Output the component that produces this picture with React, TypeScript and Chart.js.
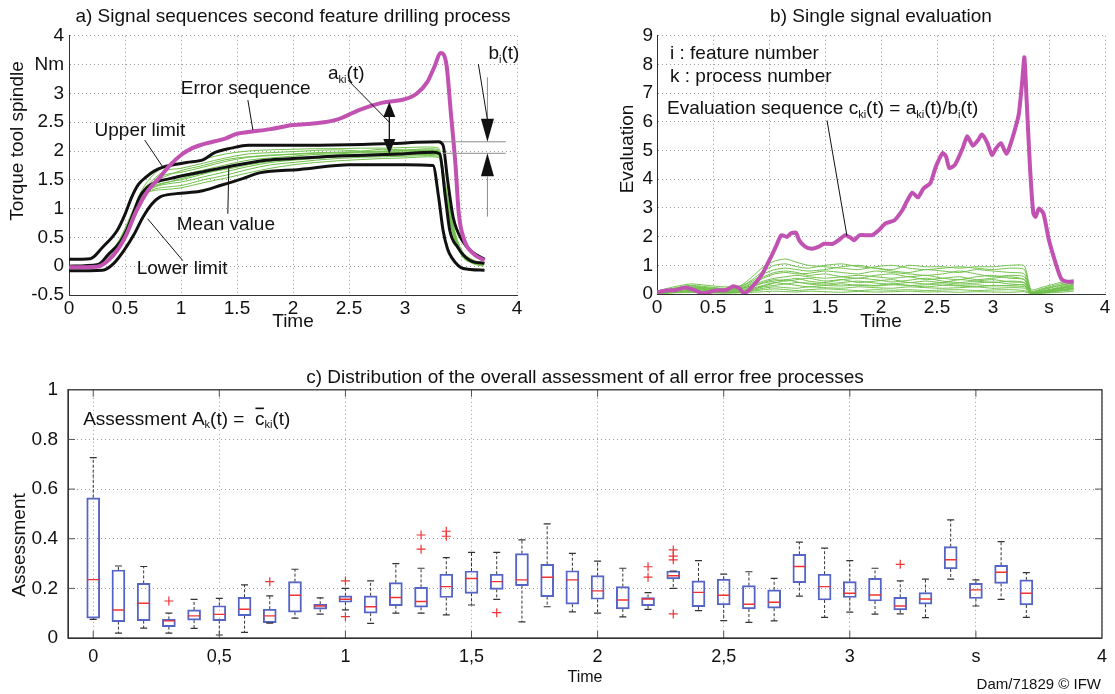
import React, { useEffect, useRef } from 'react';
import { Chart, registerables } from 'chart.js';
Chart.register(...registerables);

const FONT = '"Liberation Sans", Arial, Helvetica, sans-serif';
const TXT = '#111111';
const GRID = '#9a9a9a';
const AXIS = '#333333';
const GREEN = '#72c04c';
const PINK = '#c152b2';
const BLACK = '#111111';

// ---------- shared x ticks (panels a, b) ----------
const X_TICKS = [0, 0.5, 1, 1.5, 2, 2.5, 3, 3.5, 4];
const X_LABELS = ['0', '0.5', '1', '1.5', '2', '2.5', '3', 's', '4'];

// ---------- panel a ----------
const YA_TICKS = [-0.5, 0, 0.5, 1, 1.5, 2, 2.5, 3, 3.5, 4];
const YA_LABELS = ['-0.5', '0', '0.5', '1', '1.5', '2', '2.5', '3', 'Nm', '4'];

const UPPER_T = [0, 0.19, 0.3, 0.43, 0.5, 0.56, 0.62, 0.69, 0.76, 0.84, 1.05, 1.2, 1.3, 1.45, 1.6, 2.0, 2.5, 2.9, 3.1, 3.3, 3.34, 3.38, 3.43, 3.51, 3.6, 3.71];
const UPPER_V = [0.12, 0.13, 0.33, 0.62, 0.9, 1.2, 1.42, 1.55, 1.65, 1.72, 1.8, 1.85, 1.97, 2.05, 2.1, 2.1, 2.11, 2.13, 2.15, 2.16, 2.1, 1.5, 0.85, 0.45, 0.25, 0.12];
const MEAN_T = [0, 0.26, 0.35, 0.45, 0.52, 0.58, 0.63, 0.7, 0.75, 0.9, 1.17, 1.4, 1.76, 2.0, 2.36, 2.7, 2.95, 3.25, 3.31, 3.36, 3.4, 3.47, 3.58, 3.71];
const MEAN_V = [0, 0.03, 0.2, 0.4, 0.65, 0.95, 1.2, 1.37, 1.44, 1.52, 1.63, 1.72, 1.84, 1.87, 1.91, 1.93, 1.95, 1.98, 1.95, 1.2, 0.62, 0.33, 0.1, 0.05];
const LOWER_T = [0, 0.3, 0.4, 0.5, 0.58, 0.66, 0.74, 0.81, 0.96, 1.17, 1.35, 1.55, 1.7, 2.06, 2.51, 3.0, 3.25, 3.3, 3.34, 3.38, 3.42, 3.52, 3.71];
const LOWER_V = [-0.08, -0.07, 0.05, 0.3, 0.55, 0.85, 1.08, 1.2, 1.26, 1.3, 1.4, 1.52, 1.62, 1.68, 1.76, 1.76, 1.75, 1.2, 0.62, 0.3, 0.14, -0.04, -0.07];
const ERROR_T = [0, 0.25, 0.4, 0.5, 0.6, 0.7, 0.8, 0.9, 1.0, 1.1, 1.2, 1.4, 1.5, 1.6, 1.8, 2.0, 2.2, 2.4, 2.6, 2.8, 3.0, 3.1, 3.2, 3.26, 3.32, 3.37, 3.41, 3.45, 3.48, 3.53, 3.61, 3.71];
const ERROR_V = [-0.02, -0.01, 0.2, 0.5, 0.95, 1.3, 1.52, 1.75, 1.93, 2.05, 2.12, 2.22, 2.3, 2.33, 2.38, 2.45, 2.48, 2.55, 2.72, 2.84, 2.9, 2.99, 3.2, 3.45, 3.7, 3.5, 2.65, 1.78, 0.92, 0.45, 0.22, 0.1];

const GA_T = [0, 0.25, 0.35, 0.45, 0.55, 0.65, 0.75, 0.85, 1.0, 1.2, 1.4, 1.6, 1.8, 2.0, 2.2, 2.4, 2.6, 2.8, 3.0, 3.2, 3.3, 3.36, 3.42, 3.5, 3.6, 3.7];
const GA_1 = [0.01, 0.03, 0.22, 0.46, 0.88, 1.32, 1.58, 1.72, 1.78, 1.86, 1.95, 2.0, 2.02, 2.03, 2.04, 2.04, 2.05, 2.05, 2.06, 2.07, 2.05, 1.45, 0.8, 0.3, 0.12, 0.06];
const GA_2 = [0, 0.02, 0.2, 0.44, 0.85, 1.28, 1.5, 1.65, 1.7, 1.79, 1.88, 1.95, 1.97, 1.99, 2.01, 2.02, 2.0, 2.03, 2.02, 2.04, 2.02, 1.38, 0.75, 0.28, 0.11, 0.05];
const GA_3 = [0, 0.01, 0.18, 0.42, 0.82, 1.26, 1.46, 1.58, 1.63, 1.72, 1.82, 1.89, 1.92, 1.95, 1.97, 1.98, 1.99, 2.0, 2.01, 2.02, 2.0, 1.34, 0.72, 0.26, 0.1, 0.04];
const GA_4 = [-0.01, 0.0, 0.17, 0.4, 0.8, 1.24, 1.41, 1.5, 1.58, 1.67, 1.76, 1.84, 1.88, 1.91, 1.94, 1.95, 1.97, 1.97, 1.98, 2.0, 1.98, 1.3, 0.7, 0.24, 0.08, 0.03];
const GA_5 = [0, 0.02, 0.21, 0.43, 0.84, 1.25, 1.39, 1.45, 1.5, 1.6, 1.7, 1.78, 1.84, 1.87, 1.9, 1.93, 1.94, 1.95, 1.96, 1.97, 1.96, 1.28, 0.68, 0.23, 0.08, 0.02];
const GA_6 = [0.01, 0.02, 0.19, 0.41, 0.81, 1.22, 1.36, 1.42, 1.46, 1.55, 1.64, 1.73, 1.8, 1.84, 1.87, 1.9, 1.91, 1.92, 1.93, 1.94, 1.93, 1.25, 0.66, 0.22, 0.07, 0.02];
const GA_7 = [0, 0.01, 0.2, 0.42, 0.82, 1.21, 1.33, 1.37, 1.4, 1.5, 1.58, 1.68, 1.76, 1.8, 1.84, 1.87, 1.89, 1.9, 1.91, 1.92, 1.91, 1.22, 0.64, 0.21, 0.06, 0.01];
const GA_8 = [-0.01, 0.0, 0.18, 0.4, 0.79, 1.2, 1.31, 1.33, 1.36, 1.45, 1.53, 1.62, 1.7, 1.76, 1.8, 1.83, 1.85, 1.87, 1.88, 1.9, 1.89, 1.2, 0.62, 0.2, 0.05, 0.0];
const GA_9 = [0, 0.02, 0.22, 0.45, 0.86, 1.3, 1.45, 1.55, 1.66, 1.75, 1.85, 1.9, 1.93, 1.94, 1.96, 1.97, 1.98, 1.99, 2.0, 2.01, 1.99, 1.35, 0.73, 0.27, 0.1, 0.04];
const GA_10 = [0, 0.01, 0.19, 0.42, 0.82, 1.24, 1.37, 1.44, 1.52, 1.62, 1.68, 1.76, 1.82, 1.86, 1.88, 1.9, 1.92, 1.93, 1.94, 1.96, 1.95, 1.27, 0.67, 0.22, 0.07, 0.02];
const GREEN_A = [GA_1, GA_2, GA_3, GA_4, GA_5, GA_6, GA_7, GA_8, GA_9, GA_10];

// ---------- panel b ----------
const YB_TICKS = [0, 1, 2, 3, 4, 5, 6, 7, 8, 9];
const YB_LABELS = ['0', '1', '2', '3', '4', '5', '6', '7', '8', '9'];
const EVAL_T = [0, 0.08, 0.17, 0.25, 0.33, 0.41, 0.52, 0.62, 0.68, 0.73, 0.78, 0.86, 0.94, 1.01, 1.06, 1.11, 1.16, 1.19, 1.24, 1.27, 1.32, 1.38, 1.44, 1.49, 1.57, 1.63, 1.68, 1.73, 1.76, 1.81, 1.92, 1.98, 2.04, 2.12, 2.19, 2.23, 2.28, 2.33, 2.38, 2.44, 2.49, 2.55, 2.58, 2.61, 2.66, 2.73, 2.77, 2.82, 2.87, 2.9, 2.95, 2.99, 3.03, 3.07, 3.12, 3.15, 3.2, 3.23, 3.26, 3.28, 3.3, 3.33, 3.36, 3.38, 3.41, 3.45, 3.5, 3.57, 3.61, 3.66, 3.72];
const EVAL_V = [0.06, 0.12, 0.14, 0.23, 0.14, 0.02, 0.12, 0.14, 0.27, 0.21, 0.02, 0.29, 0.7, 1.23, 1.64, 2.05, 1.99, 2.1, 2.14, 1.87, 1.66, 1.58, 1.64, 1.75, 1.75, 1.9, 2.05, 1.96, 1.87, 2.05, 2.05, 2.22, 2.46, 2.57, 2.92, 3.22, 3.53, 3.37, 3.68, 3.86, 4.44, 4.91, 4.8, 4.39, 4.5, 5.09, 5.5, 5.17, 5.38, 5.56, 5.26, 4.85, 5.09, 5.26, 4.89, 5.15, 5.79, 6.26, 7.37, 8.25, 6.78, 4.44, 2.81, 2.69, 2.98, 2.81, 1.87, 0.94, 0.53, 0.43, 0.43];

const GB_T = [0, 0.15, 0.3, 0.45, 0.6, 0.75, 0.85, 0.95, 1.05, 1.15, 1.25, 1.35, 1.5, 1.65, 1.8, 1.95, 2.1, 2.25, 2.4, 2.55, 2.7, 2.85, 3.0, 3.15, 3.28, 3.34, 3.45, 3.6, 3.72];
const GB_1 = [0.05, 0.2, 0.3, 0.25, 0.2, 0.3, 0.6, 0.95, 1.15, 1.22, 1.1, 1.0, 0.95, 0.9, 0.85, 0.95, 1.0, 0.9, 0.85, 0.9, 0.95, 0.9, 0.85, 0.9, 0.85, 0.1, 0.2, 0.35, 0.45];
const GB_2 = [0.02, 0.15, 0.25, 0.2, 0.15, 0.25, 0.5, 0.8, 1.0, 1.05, 0.95, 0.9, 1.0, 1.05, 0.95, 0.9, 0.85, 1.0, 0.95, 0.95, 0.9, 0.95, 0.95, 1.0, 0.98, 0.15, 0.25, 0.4, 0.5];
const GB_3 = [0.1, 0.25, 0.35, 0.3, 0.25, 0.28, 0.45, 0.7, 0.85, 0.9, 0.85, 0.8, 0.85, 0.95, 1.0, 0.9, 0.8, 0.75, 0.85, 0.8, 0.75, 0.85, 0.8, 0.75, 0.7, 0.08, 0.15, 0.3, 0.4];
const GB_4 = [0.0, 0.1, 0.2, 0.18, 0.1, 0.2, 0.35, 0.55, 0.7, 0.75, 0.7, 0.72, 0.8, 0.75, 0.7, 0.8, 0.75, 0.7, 0.65, 0.7, 0.8, 0.7, 0.6, 0.65, 0.6, 0.05, 0.1, 0.25, 0.35];
const GB_5 = [0.05, 0.15, 0.2, 0.15, 0.12, 0.18, 0.3, 0.45, 0.55, 0.6, 0.65, 0.6, 0.55, 0.6, 0.65, 0.6, 0.55, 0.6, 0.5, 0.55, 0.6, 0.5, 0.55, 0.6, 0.5, 0.05, 0.12, 0.2, 0.3];
const GB_6 = [0.02, 0.12, 0.18, 0.15, 0.1, 0.15, 0.25, 0.4, 0.5, 0.45, 0.5, 0.55, 0.45, 0.5, 0.4, 0.45, 0.5, 0.4, 0.45, 0.4, 0.5, 0.45, 0.4, 0.45, 0.4, 0.05, 0.1, 0.2, 0.28];
const GB_7 = [0.05, 0.1, 0.15, 0.12, 0.08, 0.12, 0.2, 0.3, 0.4, 0.35, 0.4, 0.38, 0.35, 0.4, 0.45, 0.38, 0.35, 0.4, 0.35, 0.4, 0.35, 0.38, 0.42, 0.35, 0.3, 0.04, 0.08, 0.18, 0.25];
const GB_8 = [0.0, 0.08, 0.12, 0.1, 0.06, 0.1, 0.15, 0.25, 0.3, 0.35, 0.3, 0.25, 0.3, 0.35, 0.3, 0.28, 0.32, 0.3, 0.25, 0.3, 0.28, 0.25, 0.3, 0.28, 0.25, 0.03, 0.07, 0.15, 0.22];
const GB_9 = [0.03, 0.08, 0.1, 0.08, 0.05, 0.08, 0.12, 0.2, 0.25, 0.22, 0.2, 0.25, 0.22, 0.2, 0.25, 0.22, 0.2, 0.25, 0.22, 0.2, 0.22, 0.25, 0.2, 0.22, 0.2, 0.02, 0.05, 0.12, 0.18];
const GB_10 = [0.0, 0.05, 0.08, 0.06, 0.04, 0.06, 0.1, 0.15, 0.18, 0.15, 0.12, 0.15, 0.18, 0.15, 0.12, 0.15, 0.13, 0.15, 0.12, 0.14, 0.15, 0.12, 0.14, 0.15, 0.12, 0.02, 0.04, 0.1, 0.15];
const GB_11 = [0.02, 0.04, 0.05, 0.04, 0.03, 0.04, 0.06, 0.08, 0.1, 0.08, 0.07, 0.1, 0.08, 0.06, 0.09, 0.07, 0.08, 0.1, 0.07, 0.08, 0.06, 0.08, 0.07, 0.06, 0.08, 0.01, 0.03, 0.06, 0.1];
const GB_12 = [0.08, 0.2, 0.28, 0.22, 0.18, 0.22, 0.4, 0.6, 0.75, 0.8, 0.75, 0.65, 0.7, 0.6, 0.55, 0.65, 0.7, 0.6, 0.65, 0.55, 0.5, 0.6, 0.65, 0.55, 0.5, 0.06, 0.18, 0.3, 0.38];
const GB_13 = [0.01, 0.06, 0.1, 0.08, 0.05, 0.08, 0.16, 0.28, 0.38, 0.48, 0.55, 0.45, 0.4, 0.5, 0.55, 0.5, 0.42, 0.48, 0.55, 0.45, 0.4, 0.45, 0.5, 0.42, 0.38, 0.03, 0.06, 0.14, 0.2];
const GB_14 = [0.04, 0.12, 0.22, 0.2, 0.14, 0.2, 0.28, 0.38, 0.45, 0.5, 0.42, 0.35, 0.3, 0.28, 0.32, 0.3, 0.35, 0.3, 0.32, 0.35, 0.3, 0.32, 0.28, 0.3, 0.32, 0.04, 0.1, 0.22, 0.32];
const GREEN_B = [GB_1, GB_2, GB_3, GB_4, GB_5, GB_6, GB_7, GB_8, GB_9, GB_10, GB_11, GB_12, GB_13, GB_14];

// ---------- panel c ----------
const XC_TICKS = [0, 0.5, 1, 1.5, 2, 2.5, 3, 3.5, 4];
const XC_LABELS = ['0', '0,5', '1', '1,5', '2', '2,5', '3', 's', '4'];
const YC_TICKS = [0, 0.2, 0.4, 0.6, 0.8, 1];
const YC_LABELS = ['0', '0.2', '0.4', '0.6', '0.8', '1'];
const BOX_T = [0, 0.1, 0.2, 0.3, 0.4, 0.5, 0.6, 0.7, 0.8, 0.9, 1.0, 1.1, 1.2, 1.3, 1.4, 1.5, 1.6, 1.7, 1.8, 1.9, 2.0, 2.1, 2.2, 2.3, 2.4, 2.5, 2.6, 2.7, 2.8, 2.9, 3.0, 3.1, 3.2, 3.3, 3.4, 3.5, 3.6, 3.7];
const BOX_MIN = [0.075, 0.02, 0.04, 0.02, 0.039, 0.012, 0.023, 0.06, 0.08, 0.096, 0.113, 0.059, 0.1, 0.1, 0.093, 0.133, 0.156, 0.065, 0.126, 0.105, 0.1, 0.085, 0.115, 0.2, 0.11, 0.07, 0.063, 0.069, 0.169, 0.083, 0.104, 0.096, 0.097, 0.082, 0.237, 0.129, 0.156, 0.083];
const BOX_Q1 = [0.08, 0.066, 0.07, 0.046, 0.072, 0.07, 0.09, 0.062, 0.104, 0.116, 0.144, 0.1, 0.13, 0.124, 0.163, 0.18, 0.196, 0.211, 0.167, 0.136, 0.156, 0.117, 0.13, 0.238, 0.126, 0.133, 0.117, 0.12, 0.223, 0.153, 0.163, 0.149, 0.113, 0.136, 0.278, 0.159, 0.22, 0.133];
const BOX_MED = [0.235, 0.113, 0.14, 0.069, 0.089, 0.095, 0.116, 0.089, 0.172, 0.129, 0.156, 0.126, 0.163, 0.147, 0.207, 0.24, 0.227, 0.234, 0.245, 0.234, 0.19, 0.153, 0.157, 0.251, 0.184, 0.172, 0.136, 0.144, 0.288, 0.207, 0.18, 0.173, 0.129, 0.157, 0.315, 0.194, 0.265, 0.18];
const BOX_Q3 = [0.565, 0.274, 0.22, 0.075, 0.113, 0.13, 0.164, 0.116, 0.227, 0.136, 0.17, 0.17, 0.223, 0.204, 0.257, 0.27, 0.257, 0.34, 0.297, 0.271, 0.251, 0.207, 0.163, 0.27, 0.23, 0.237, 0.211, 0.194, 0.337, 0.257, 0.227, 0.24, 0.164, 0.183, 0.368, 0.22, 0.293, 0.234];
const BOX_MAX = [0.727, 0.29, 0.288, 0.1, 0.156, 0.16, 0.214, 0.17, 0.277, 0.162, 0.2, 0.23, 0.3, 0.281, 0.324, 0.345, 0.345, 0.395, 0.46, 0.341, 0.31, 0.281, 0.183, 0.27, 0.312, 0.257, 0.267, 0.24, 0.386, 0.362, 0.312, 0.281, 0.23, 0.237, 0.476, 0.234, 0.388, 0.263];
const OUT_T = [0.3, 0.7, 1.0, 1.0, 1.3, 1.3, 1.4, 1.4, 1.6, 2.2, 2.2, 2.3, 2.3, 2.3, 2.3, 3.2];
const OUT_V = [0.149, 0.227, 0.23, 0.086, 0.415, 0.358, 0.43, 0.41, 0.102, 0.287, 0.245, 0.355, 0.33, 0.315, 0.097, 0.297];

// ---------- helpers ----------
const zip = (t: number[], v: (number | null)[]) => t.map((x, i) => ({ x, y: v[i] }));
const f = (size: number) => `${size}px ${FONT}`;

type Part = [string, string?];
function rich(ctx: CanvasRenderingContext2D, x: number, yMid: number, parts: Part[], size: number) {
  ctx.save();
  ctx.textBaseline = 'alphabetic';
  ctx.textAlign = 'left';
  ctx.fillStyle = TXT;
  const base = yMid + size * 0.36;
  let cx = x;
  for (const [s, k] of parts) {
    const sub = k === 'sub';
    const sz = sub ? Math.round(size * 0.58) : size;
    ctx.font = f(sz);
    ctx.fillText(s, cx, sub ? base + size * 0.2 : base);
    const w = ctx.measureText(s).width;
    if (k === 'bar') {
      ctx.strokeStyle = TXT;
      ctx.lineWidth = 1.6;
      ctx.beginPath();
      ctx.moveTo(cx + 0.5, base - size * 0.86);
      ctx.lineTo(cx + w - 0.5, base - size * 0.86);
      ctx.stroke();
    }
    cx += w;
  }
  ctx.restore();
}
function vtext(ctx: CanvasRenderingContext2D, s: string, x: number, y: number, size: number) {
  ctx.save();
  ctx.translate(x, y);
  ctx.rotate(-Math.PI / 2);
  ctx.font = f(size);
  ctx.fillStyle = TXT;
  ctx.textAlign = 'center';
  ctx.textBaseline = 'middle';
  ctx.fillText(s, 0, 0);
  ctx.restore();
}
function seg(ctx: CanvasRenderingContext2D, x1: number, y1: number, x2: number, y2: number, color: string, w: number) {
  ctx.save();
  ctx.strokeStyle = color;
  ctx.lineWidth = w;
  ctx.beginPath();
  ctx.moveTo(x1, y1);
  ctx.lineTo(x2, y2);
  ctx.stroke();
  ctx.restore();
}
function tri(ctx: CanvasRenderingContext2D, x: number, yTip: number, h: number, w: number, up: boolean) {
  const yb = up ? yTip + h : yTip - h;
  ctx.save();
  ctx.fillStyle = BLACK;
  ctx.beginPath();
  ctx.moveTo(x, yTip);
  ctx.lineTo(x - w / 2, yb);
  ctx.lineTo(x + w / 2, yb);
  ctx.closePath();
  ctx.fill();
  ctx.restore();
}

function xAxis(ticks: number[], labels: string[], min: number, height: number, pad: number, titleSize: number, titlePadB: number) {
  return {
    type: 'linear',
    min,
    max: 4,
    offset: false,
    afterBuildTicks: (s: any) => { s.ticks = ticks.map((v) => ({ value: v })); },
    afterFit: (s: any) => { s.height = height; },
    ticks: {
      autoSkip: false,
      maxRotation: 0,
      padding: pad,
      color: TXT,
      font: { family: FONT, size: titleSize === 16 ? 18 : 19 },
      callback: (v: number) => { const i = ticks.indexOf(v); return i >= 0 ? labels[i] : ''; },
    },
    grid: { color: GRID, lineWidth: 1, drawTicks: false, offset: false },
    border: { color: AXIS, width: 1, dash: [1, 3] },
    title: { display: true, text: 'Time', color: TXT, font: { family: FONT, size: titleSize }, padding: { top: 0, bottom: titlePadB } },
  };
}
function yAxis(ticks: number[], labels: string[], min: number, max: number, width: number, pad: number, size: number) {
  return {
    type: 'linear',
    min,
    max,
    afterBuildTicks: (s: any) => { s.ticks = ticks.map((v) => ({ value: v })); },
    afterFit: (s: any) => { s.width = width; },
    ticks: {
      padding: pad,
      color: TXT,
      font: { family: FONT, size },
      callback: (v: number) => { const i = ticks.indexOf(v); return i >= 0 ? labels[i] : ''; },
    },
    grid: { color: GRID, lineWidth: 1, drawTicks: false },
    border: { color: AXIS, width: 1, dash: [1, 3] },
  };
}
const titleOpt = (text: string, top: number, bottom: number) => ({
  display: true,
  text,
  fullSize: false,
  color: TXT,
  font: { family: FONT, size: 19, weight: 'normal' as const },
  padding: { top, bottom },
});

// ---------- plugins ----------
const plugA = {
  id: 'plugA',
  afterDatasetsDraw(chart: any) {
    const ctx = chart.ctx as CanvasRenderingContext2D;
    const X = (t: number) => chart.scales.x.getPixelForValue(t);
    const Y = (v: number) => chart.scales.y.getPixelForValue(v);
    // leader lines
    seg(ctx, X(0.676), Y(2.19), X(0.837), Y(1.724), BLACK, 1);
    seg(ctx, X(1.597), Y(2.884), X(1.642), Y(2.364), BLACK, 1);
    seg(ctx, X(1.418), Y(0.91), X(1.427), Y(1.741), BLACK, 1);
    seg(ctx, X(1.016), Y(0.097), X(0.702), Y(0.824), BLACK, 1);
    seg(ctx, X(2.492), Y(3.229), X(2.859), Y(2.502), BLACK, 1);
    // a_ki double arrow
    const ax = X(2.86);
    seg(ctx, ax, Y(2.85) + 12, ax, Y(1.95) - 12, BLACK, 1.3);
    tri(ctx, ax, Y(2.85), 15, 12, true);
    tri(ctx, ax, Y(1.95), 15, 12, false);
    // b_i construction
    seg(ctx, X(3.33), Y(2.16), X(3.9), Y(2.16), '#8c8c8c', 1);
    seg(ctx, X(3.33), Y(1.96), X(3.9), Y(1.96), '#8c8c8c', 1);
    const bx = X(3.736);
    seg(ctx, bx, Y(3.28), bx, Y(2.16) - 22, '#8c8c8c', 1);
    seg(ctx, X(3.655), Y(3.51), bx, Y(2.16) - 22, BLACK, 1);
    tri(ctx, bx, Y(2.16), 23, 13, false);
    tri(ctx, bx, Y(1.96), 23, 13, true);
    seg(ctx, bx, Y(1.96) + 23, bx, Y(0.86), '#8c8c8c', 1);
    // texts
    rich(ctx, X(0.228), Y(2.38), [['Upper limit']], 19);
    rich(ctx, X(0.998), Y(3.108), [['Error sequence']], 19);
    rich(ctx, X(0.962), Y(0.755), [['Mean value']], 19);
    rich(ctx, X(0.604), Y(-0.024), [['Lower limit']], 19);
    rich(ctx, X(2.313), Y(3.368), [['a'], ['ki', 'sub'], ['(t)']], 19);
    rich(ctx, X(3.745), Y(3.714), [['b'], ['i', 'sub'], ['(t)']], 19);
  },
  afterDraw(chart: any) {
    vtext(chart.ctx, 'Torque tool spindle', 18, 141, 19);
  },
};

const plugB = {
  id: 'plugB',
  afterDatasetsDraw(chart: any) {
    const ctx = chart.ctx as CanvasRenderingContext2D;
    const X = (t: number) => chart.scales.x.getPixelForValue(t);
    const Y = (v: number) => chart.scales.y.getPixelForValue(v);
    seg(ctx, X(1.518), Y(6.05), X(1.696), Y(2.03), BLACK, 1);
    rich(ctx, X(0.116), Y(8.43), [['i : feature number']], 19);
    rich(ctx, X(0.116), Y(7.62), [['k : process number']], 19);
    rich(ctx, X(0.089), Y(6.5), [['Evaluation sequence c'], ['ki', 'sub'], ['(t) = a'], ['ki', 'sub'], ['(t)/b'], ['i', 'sub'], ['(t)']], 19);
  },
  afterDraw(chart: any) {
    vtext(chart.ctx, 'Evaluation', 68, 149, 19);
  },
};

const plugC = {
  id: 'plugC',
  afterDatasetsDraw(chart: any) {
    const ctx = chart.ctx as CanvasRenderingContext2D;
    const a = chart.chartArea;
    const X = (t: number) => chart.scales.x.getPixelForValue(t);
    const Y = (v: number) => chart.scales.y.getPixelForValue(v);
    // inward tick marks
    for (const v of YC_TICKS.slice(1, -1)) {
      seg(ctx, a.left, Y(v), a.left + 7, Y(v), '#555', 1);
      seg(ctx, a.right - 7, Y(v), a.right, Y(v), '#555', 1);
    }
    for (const t of XC_TICKS.slice(0, -1)) {
      seg(ctx, X(t), a.bottom, X(t), a.bottom - 7, '#555', 1);
      seg(ctx, X(t), a.top, X(t), a.top + 7, '#555', 1);
    }
    // frame
    ctx.save();
    ctx.strokeStyle = AXIS;
    ctx.lineWidth = 1.3;
    ctx.strokeRect(a.left, a.top, a.right - a.left, a.bottom - a.top);
    ctx.restore();
    rich(ctx, X(-0.04), Y(0.887), [['Assessment A'], ['k', 'sub'], ['(t) =  '], ['c', 'bar'], ['ki', 'sub'], ['(t)']], 19);
  },
  afterDraw(chart: any) {
    const ctx = chart.ctx as CanvasRenderingContext2D;
    vtext(ctx, 'Assessment', 20, 185, 19);
    ctx.save();
    ctx.font = f(15);
    ctx.fillStyle = TXT;
    ctx.textAlign = 'right';
    ctx.textBaseline = 'middle';
    ctx.fillText('Dam/71829 © IFW', 1101, 325);
    ctx.restore();
  },
};

// ---------- configs ----------
const baseOpts = {
  animation: false,
  responsive: false,
  devicePixelRatio: 1,
  events: [] as string[],
};

function configA(): any {
  const datasets: any[] = [];
  datasets.push({ data: zip(ERROR_T, ERROR_V), borderColor: PINK, borderWidth: 4 });
  datasets.push({ data: zip(UPPER_T, UPPER_V), borderColor: BLACK, borderWidth: 3 });
  datasets.push({ data: zip(MEAN_T, MEAN_V), borderColor: BLACK, borderWidth: 3 });
  datasets.push({ data: zip(LOWER_T, LOWER_V), borderColor: BLACK, borderWidth: 3 });
  GREEN_A.forEach((g) => datasets.push({ data: zip(GA_T, g), borderColor: GREEN, borderWidth: 1 }));
  datasets.forEach((d) => Object.assign(d, { pointRadius: 0, cubicInterpolationMode: 'monotone', fill: false }));
  return {
    type: 'line',
    data: { datasets },
    options: {
      ...baseOpts,
      layout: { padding: { left: 0, right: 43, top: 0, bottom: 0 } },
      plugins: { legend: { display: false }, tooltip: { enabled: false }, title: titleOpt('a) Signal sequences second feature drilling process', 5, 8) },
      scales: {
        x: xAxis(X_TICKS, X_LABELS, 0, 45, 2, 19, 7),
        y: yAxis(YA_TICKS, YA_LABELS, -0.5, 4, 69, 5, 19),
      },
    },
    plugins: [plugA],
  };
}

function configB(): any {
  const datasets: any[] = [];
  datasets.push({ data: zip(EVAL_T, EVAL_V), borderColor: PINK, borderWidth: 4, tension: 0.2 });
  GREEN_B.forEach((g) => datasets.push({ data: zip(GB_T, g), borderColor: GREEN, borderWidth: 1, tension: 0.2 }));
  datasets.forEach((d) => Object.assign(d, { pointRadius: 0, fill: false, borderJoinStyle: 'round' }));
  return {
    type: 'line',
    data: { datasets },
    options: {
      ...baseOpts,
      layout: { padding: { left: 0, right: 10, top: 0, bottom: 0 } },
      plugins: { legend: { display: false }, tooltip: { enabled: false }, title: titleOpt('b) Single signal evaluation', 5, 8) },
      scales: {
        x: xAxis(X_TICKS, X_LABELS, 0, 46, 2, 19, 7),
        y: yAxis(YB_TICKS, YB_LABELS, 0, 9, 97, 4, 19),
      },
    },
    plugins: [plugB],
  };
}

function configC(): any {
  const whiskers: any[] = [];
  BOX_T.forEach((t, i) => {
    whiskers.push({ x: t, y: BOX_Q3[i] }, { x: t, y: BOX_MAX[i] }, { x: t, y: null });
    whiskers.push({ x: t, y: BOX_Q1[i] }, { x: t, y: BOX_MIN[i] }, { x: t, y: null });
  });
  const caps = [...zip(BOX_T, BOX_MAX), ...zip(BOX_T, BOX_MIN)];
  return {
    type: 'bar',
    data: {
      datasets: [
        { type: 'scatter', data: zip(OUT_T, OUT_V), pointStyle: 'cross', pointRadius: 4.5, pointBorderColor: '#ee3333', borderColor: '#ee3333', pointBorderWidth: 1.2 },
        { type: 'scatter', data: zip(BOX_T, BOX_MED), pointStyle: 'line', pointRadius: 6, pointBorderColor: '#ee3333', borderColor: '#ee3333', pointBorderWidth: 1.4 },
        { type: 'scatter', data: caps, pointStyle: 'line', pointRadius: 3.5, pointBorderColor: '#333', borderColor: '#333', pointBorderWidth: 1.2 },
        { type: 'bar', data: BOX_T.map((t, i) => ({ x: t, y: [BOX_Q1[i], BOX_Q3[i]] })), backgroundColor: 'rgba(0,0,0,0)', borderColor: '#5465c6', borderWidth: 1.3, borderSkipped: false, barThickness: 13 },
        { type: 'line', data: whiskers, borderColor: '#333', borderWidth: 1, borderDash: [3, 2], pointRadius: 0, spanGaps: false, tension: 0, fill: false },
      ],
    },
    options: {
      ...baseOpts,
      layout: { padding: { left: 0, right: 12, top: 0, bottom: 0 } },
      plugins: { legend: { display: false }, tooltip: { enabled: false }, title: titleOpt('c) Distribution of the overall assessment of all error free processes', 6, 1) },
      scales: {
        x: xAxis(XC_TICKS, XC_LABELS, -0.1, 56, 8, 16, 7),
        y: yAxis(YC_TICKS, YC_LABELS, 0, 1, 68, 10, 19),
      },
    },
    plugins: [plugC],
  };
}

export default function App() {
  const ra = useRef<HTMLCanvasElement>(null);
  const rb = useRef<HTMLCanvasElement>(null);
  const rc = useRef<HTMLCanvasElement>(null);
  useEffect(() => {
    const charts = [
      new Chart(ra.current as HTMLCanvasElement, configA()),
      new Chart(rb.current as HTMLCanvasElement, configB()),
      new Chart(rc.current as HTMLCanvasElement, configC()),
    ];
    return () => charts.forEach((c) => c.destroy());
  }, []);
  return (
    <div style={{ position: 'fixed', left: 0, top: 0, width: 1115, height: 694, background: '#fff', overflow: 'hidden' }}>
      <canvas ref={ra} width={560} height={340} style={{ position: 'absolute', left: 0, top: 0, width: 560, height: 340 }} />
      <canvas ref={rb} width={555} height={340} style={{ position: 'absolute', left: 560, top: 0, width: 555, height: 340 }} />
      <canvas ref={rc} width={1115} height={334} style={{ position: 'absolute', left: 0, top: 360, width: 1115, height: 334 }} />
    </div>
  );
}
